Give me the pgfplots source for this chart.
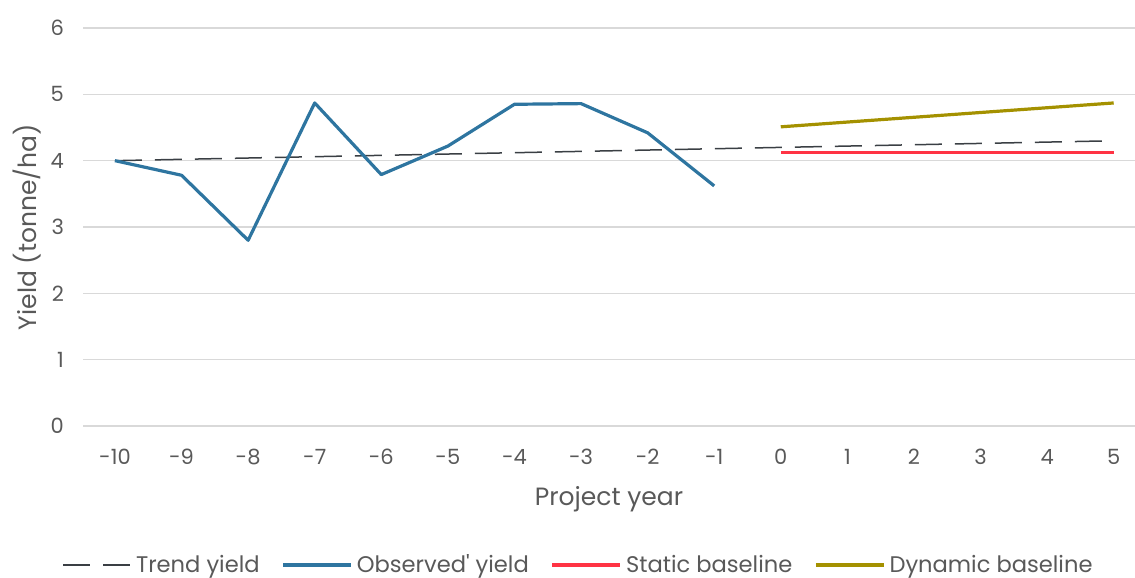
\documentclass[border=0pt]{standalone}
\usepackage{pgfplots}
\pgfplotsset{compat=1.18}
\usepackage{fontspec}
\setmainfont{Poppins}
\definecolor{obsblue}{HTML}{2E75A0}
\definecolor{statred}{HTML}{FF3344}
\definecolor{dynolive}{HTML}{A49100}
\definecolor{trendgray}{HTML}{3A3F44}
\definecolor{txtgray}{HTML}{595959}
\definecolor{gridgray}{HTML}{D9D9D9}
\begin{document}
\begin{tikzpicture}
\useasboundingbox (0pt,0pt) rectangle (567.5pt,289pt);
\begin{axis}[
  at={(41.5pt,76pt)}, anchor=south west,
  scale only axis,
  width=526pt, height=199pt,
  xmin=-10.48, xmax=5.32,
  ymin=0, ymax=6,
  xtick={-10,...,5},
  xticklabels={-10,-9,-8,-7,-6,-5,-4,-3,-2,-1,0,1,2,3,4,5},
  ytick={0,...,6},
  ymajorgrids,
  grid style={gridgray, line width=0.7pt},
  axis line style={draw=none},
  major tick length=0pt,
  clip=false,
  font=\fontsize{10.5}{12}\selectfont,
  tick label style={txtgray},
  /pgf/number format/assume math mode=true,
  yticklabel style={xshift=-6pt},
  xticklabel style={yshift=-8pt},
  xlabel={Project year},
  ylabel={Yield (tonne/ha)},
  label style={txtgray, font=\fontsize{12.5}{14}\selectfont},
  xlabel style={yshift=-4pt},
  ylabel style={yshift=-2pt},
  legend columns=4,
  legend style={draw=none, at={(0.472,-0.349)}, anchor=center,
    text=txtgray, font=\fontsize{11.3}{13}\selectfont,
    /tikz/every even column/.append style={column sep=9pt}},
  legend image code/.code={\draw[#1] (0pt,0pt) -- (34pt,0pt);},
]
\addplot[trendgray, line width=0.75pt, dash pattern=on 13.5pt off 6.5pt]
  coordinates {(-10,4.00) (5,4.30)};
\addlegendentry{Trend yield}
\addplot[obsblue, line width=1.6pt, line join=round]
  coordinates {(-10,4.00) (-9,3.78) (-8,2.80) (-7,4.87) (-6,3.79) (-5,4.22)
               (-4,4.85) (-3,4.86) (-2,4.42) (-1,3.62)};
\addlegendentry{Observed\textquotesingle{} yield}
\addplot[statred, line width=1.6pt]
  coordinates {(0,4.12) (5,4.12)};
\addlegendentry{Static baseline}
\addplot[dynolive, line width=1.6pt]
  coordinates {(0,4.51) (5,4.87)};
\addlegendentry{Dynamic baseline}
\end{axis}
\end{tikzpicture}
\end{document}
